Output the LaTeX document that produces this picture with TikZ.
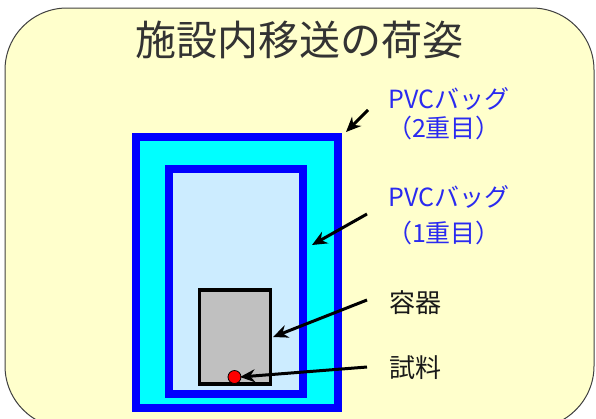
\documentclass[tikz,border=0pt]{standalone}
\usepackage{fontspec}
\setmainfont{Noto Sans CJK JP}
\usepackage{tikz}
\usetikzlibrary{arrows.meta}
\definecolor{paper}{HTML}{FFFFCC}
\definecolor{frame}{HTML}{404040}
\definecolor{bagblue}{HTML}{0000FF}
\definecolor{bagcyan}{HTML}{00FFFF}
\definecolor{bagpale}{HTML}{CCECFF}
\definecolor{boxgray}{HTML}{C0C0C0}
\definecolor{labelblue}{HTML}{2A2AF0}

\begin{document}
\begin{tikzpicture}[x=1pt, y=-1pt,
  every node/.style={inner sep=0pt},
  bluelabel/.style={text=labelblue, font=\fontsize{25}{27}\selectfont},
  blacklabel/.style={text=black!90, font=\fontsize{26}{28}\selectfont},
  pointer/.style={-{Stealth[length=15pt, width=13pt]}, line width=3pt, black}]

  \useasboundingbox (0,0) rectangle (596,418);

  % background card
  \draw[frame, fill=paper, line width=1pt, rounded corners=62pt] (5,8) rectangle (594,428);
  \node[text=black!80, font=\fontsize{41}{44}\selectfont] (title) at (299,40) {施設内移送の荷姿};

  % outer bag, inner bag, container, sample
  \draw[bagblue, fill=bagcyan, line width=7.5pt] (136,137) rectangle (338,408);
  \draw[bagblue, fill=bagpale, line width=7.5pt] (169,169) rectangle (303,394);
  \draw[black, fill=boxgray, line width=3.3pt] (199.5,290) rectangle (270.5,384);
  \draw[black, fill=red, line width=0.8pt] (234.5,377) circle (6.5pt);

  % labels
  \node[bluelabel] (bag2) at (449,99) {PVCバッグ};
  \node[bluelabel] (bag2n) at (444,128) {（2重目）};
  \node[bluelabel] (bag1) at (449,197) {PVCバッグ};
  \node[bluelabel] (bag1n) at (444,233) {（1重目）};
  \node[blacklabel] (vessel) at (415,303) {容器};
  \node[blacklabel] (sample) at (415,368) {試料};

  % arrows
  \coordinate (a2) at (368,110);  \coordinate (t2) at (346,132);
  \coordinate (a1) at (367,214);  \coordinate (t1) at (312,245);
  \coordinate (av) at (367,300);  \coordinate (tv) at (273,337);
  \coordinate (as) at (367,367);  \coordinate (ts) at (240,377);
  \draw[pointer] (a2) -- (t2);
  \draw[pointer] (a1) -- (t1);
  \draw[pointer] (av) -- (tv);
  \draw[pointer] (as) -- (ts);

\end{tikzpicture}
\end{document}
